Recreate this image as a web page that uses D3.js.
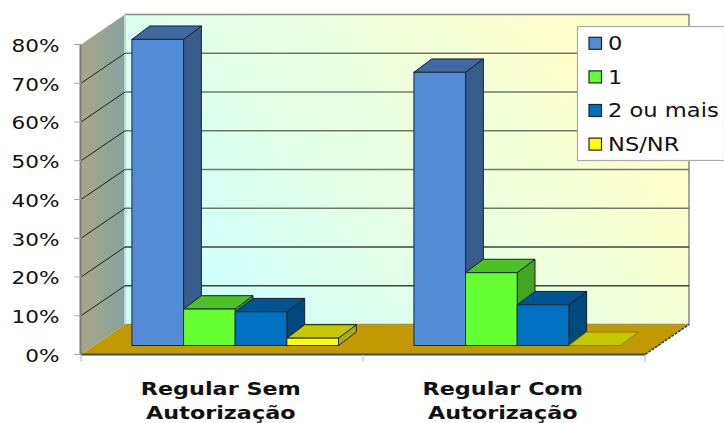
<!DOCTYPE html>
<html><head><meta charset="utf-8">
<script src="https://cdn.jsdelivr.net/npm/d3@7/dist/d3.min.js"></script>
<style>html,body{margin:0;padding:0;background:#fff}svg{display:block}text{font-family:"DejaVu Sans",sans-serif;fill:#111}</style>
</head><body><div id="chart"></div>
<script>
const categories = ["Regular Sem Autorização", "Regular Com Autorização"];
const categoryLines = [["Regular Sem", "Autorização"], ["Regular Com", "Autorização"]];
const seriesNames = ["0", "1", "2 ou mais", "NS/NR"];
const values0 = [79, 70.5];
const values1 = [9.4, 18.8];
const values2 = [8.7, 10.5];
const valuesNs = [1.9, 0];
const tickValues = [0, 10, 20, 30, 40, 50, 60, 70, 80];
const seriesValues = [values0, values1, values2, valuesNs];
const frontColors = ["#538bd6", "#66ff33", "#0070c0", "#ffff00"];
const topColors = ["#3f69a1", "#4dc026", "#005490", "#c8c800"];
const sideColors = ["#375b8b", "#41a521", "#00497d", "#adad00"];

const W = 724, H = 423;
const svg = d3.select("#chart").append("svg").attr("width", W).attr("height", H);
const defs = svg.append("defs");

// Front plane of the 3D box and the depth of the room and of the bars
const y = d3.scaleLinear().domain([0, 80]).range([354.5, 44.5]);
const x0 = d3.scaleBand().domain(categories).range([81, 645]);
const inner = d3.scaleBand().domain(seriesNames).range([0, 206.6]);
const room = { dx: 44, dy: -30 };
const barBase = { dx: 13.2, dy: -9 };
const barDepth = { dx: 17.8, dy: -13.4 };
const groupPad = (x0.bandwidth() - 206.6) / 2;
const poly = pts => pts.map(p => p.join(",")).join(" ");

const back = defs.append("linearGradient").attr("id", "backWall")
  .attr("gradientUnits", "userSpaceOnUse")
  .attr("x1", 190).attr("y1", 330).attr("x2", 560).attr("y2", 30);
back.append("stop").attr("offset", 0).attr("stop-color", "#ccffff");
back.append("stop").attr("offset", 1).attr("stop-color", "#ffffcc");
const side = defs.append("linearGradient").attr("id", "sideWall")
  .attr("gradientUnits", "userSpaceOnUse")
  .attr("x1", 81).attr("y1", 0).attr("x2", 125).attr("y2", 0);
side.append("stop").attr("offset", 0).attr("stop-color", "#aaa686");
side.append("stop").attr("offset", 1).attr("stop-color", "#85a3a0");

const x1 = x0.range()[1], xl = x0.range()[0];
const roomTop = y(80) + room.dy, roomBottom = y(0) + room.dy;

// Walls
svg.append("rect").attr("x", xl + room.dx).attr("y", roomTop)
  .attr("width", x1 - xl).attr("height", roomBottom - roomTop)
  .attr("fill", "url(#backWall)").attr("stroke", "#8a8a80").attr("stroke-width", 1.5);
svg.append("polygon")
  .attr("points", poly([[xl, y(80)], [xl + room.dx, roomTop], [xl + room.dx, roomBottom], [xl, y(0)]]))
  .attr("fill", "url(#sideWall)");
svg.append("line").attr("x1", xl + room.dx).attr("x2", xl + room.dx).attr("y1", roomTop).attr("y2", roomBottom)
  .attr("stroke", "#d8e4e0").attr("stroke-width", 1.5);

// Gridlines on the back wall and the side wall
svg.append("g").selectAll("line").data(tickValues.slice(1, -1)).join("line")
  .attr("x1", xl + room.dx).attr("x2", x1 + room.dx)
  .attr("y1", d => y(d) + room.dy).attr("y2", d => y(d) + room.dy)
  .attr("stroke", d => d <= 20 ? "#3c443c" : "#6e7a68").attr("stroke-width", 1.5);
svg.append("g").selectAll("line").data(tickValues.slice(1, -1)).join("line")
  .attr("x1", xl).attr("x2", xl + room.dx)
  .attr("y1", d => y(d)).attr("y2", d => y(d) + room.dy)
  .attr("stroke", "#1c2420").attr("stroke-width", 1);

// Floor
svg.append("polygon")
  .attr("points", poly([[xl, y(0)], [xl + room.dx, roomBottom], [x1 + room.dx, roomBottom], [x1, y(0)]]))
  .attr("fill", "#c09a00");
svg.append("line").attr("x1", x1).attr("y1", y(0)).attr("x2", x1 + room.dx).attr("y2", roomBottom)
  .attr("stroke", "#333").attr("stroke-width", 1.5).attr("stroke-dasharray", "3 1");
svg.append("line").attr("x1", xl).attr("x2", x1).attr("y1", y(0)).attr("y2", y(0))
  .attr("stroke", "#44464a").attr("stroke-width", 2);

// Value axis and category ticks
svg.append("line").attr("x1", xl - 0.5).attr("x2", xl - 0.5).attr("y1", y(80)).attr("y2", y(0))
  .attr("stroke", "#7c7c7c").attr("stroke-width", 2);
svg.append("g").selectAll("line").data(tickValues).join("line")
  .attr("x1", xl - 7).attr("x2", xl).attr("y1", d => y(d)).attr("y2", d => y(d))
  .attr("stroke", "#a8a8a8");
svg.append("g").selectAll("line").data([xl, xl + x0.bandwidth(), x1]).join("line")
  .attr("x1", d => d).attr("x2", d => d).attr("y1", y(0)).attr("y2", y(0) + 7)
  .attr("stroke", "#b4b4b4");

// Wide type: glyphs are stretched horizontally
const stretched = (g, str, px, py, size, sx, anchor, weight) =>
  g.append("text").attr("transform", `translate(${px},${py}) scale(${sx},1)`)
    .attr("font-size", size).attr("text-anchor", anchor || "start")
    .attr("font-weight", weight || "normal").text(str);

tickValues.forEach(t => stretched(svg, t + "%", 59.5, y(t) + 7.3, 18.3, 1.18, "end"));

// Bars, left to right in each group so that each front covers its neighbour's side
categories.forEach((cat, c) => {
  const g = svg.append("g");
  seriesNames.forEach((name, s) => {
    const v = seriesValues[s][c];
    const xa = x0(cat) + groupPad + inner(name) + barBase.dx;
    const xb = xa + inner.bandwidth();
    const yb = y(0) + barBase.dy;
    const yt = y(v) + barBase.dy;
    const dx = barDepth.dx, dy = barDepth.dy;
    if (v > 0) {
      g.append("polygon").attr("points", poly([[xb, yt], [xb + dx, yt + dy], [xb + dx, yb + dy], [xb, yb]]))
        .attr("fill", sideColors[s]).attr("stroke", "#16202c").attr("stroke-width", 1);
    }
    g.append("polygon").attr("points", poly([[xa, yt], [xa + dx, yt + dy], [xb + dx, yt + dy], [xb, yt]]))
      .attr("fill", topColors[s]).attr("stroke", v > 0 ? "#16202c" : "#8a7a00").attr("stroke-width", 1);
    if (v > 0) {
      g.append("rect").attr("x", xa).attr("y", yt).attr("width", xb - xa).attr("height", yb - yt)
        .attr("fill", frontColors[s]).attr("stroke", "#1a2a3a").attr("stroke-width", 1);
    }
  });
  categoryLines[c].forEach((line, i) => {
    stretched(svg, line, x0(cat) + x0.bandwidth() / 2 - 1.2, 395 + i * 23.5, 18, 1.24, "middle", "bold");
  });
});

// Legend
const legend = svg.append("g");
legend.append("rect").attr("x", 577.5).attr("y", 26.5).attr("width", 147).attr("height", 134)
  .attr("fill", "#fff").attr("stroke", "#aaa").attr("stroke-width", 1.2);
seriesNames.forEach((name, i) => {
  const ly = 43.3 + i * 33.6;
  legend.append("rect").attr("x", 589).attr("y", ly - 6).attr("width", 12.5).attr("height", 12)
    .attr("fill", frontColors[i]).attr("stroke", "#222").attr("stroke-width", 1.2);
  stretched(legend, name, 608, ly + 6.8, 19.3, 1.17);
});
</script></body></html>
